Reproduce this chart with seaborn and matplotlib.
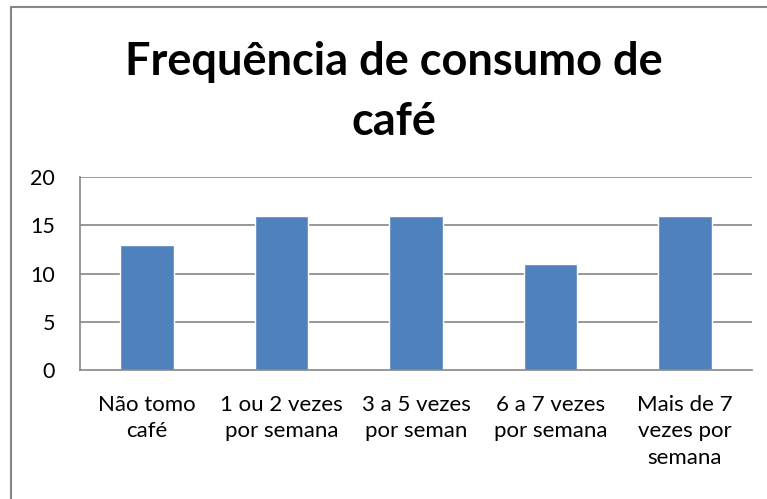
import matplotlib
matplotlib.use("Agg")
import matplotlib.pyplot as plt
import numpy as np
import pandas as pd
import seaborn as sns
from matplotlib.lines import Line2D

# ---------------------------------------------------------------------------
# Data
# ---------------------------------------------------------------------------
categories = [
    "Não tomo\ncafé",
    "1 ou 2 vezes\npor semana",
    "3 a 5 vezes\npor seman",
    "6 a 7 vezes\npor semana",
    "Mais de 7\nvezes por\nsemana",
]
counts = [13, 16, 16, 11, 16]
y_ticks = [0, 5, 10, 15, 20]
title = "Frequência de consumo de\ncafé"

BAR_COLOR = "#4F81BD"
GRID_COLOR = "#868686"

sns.set_theme(style="white")
plt.rcParams["font.family"] = ["Lato", "DejaVu Sans"]

fig = plt.figure(figsize=(7.67, 4.99), dpi=100)
ax = fig.add_axes([80 / 767, 1 - 370 / 499, 672 / 767, 193 / 499])

df = pd.DataFrame({"cat": categories, "n": counts})
sns.barplot(data=df, x="cat", y="n", color=BAR_COLOR, width=0.4,
            saturation=1, ax=ax)

ax.set_ylim(0, 20)
ax.set_xlim(-0.5, len(categories) - 0.5)
ax.set_yticks(y_ticks)
ax.set_xlabel("")
ax.set_ylabel("")

# Excel-like grid / axes
for y in y_ticks[1:]:
    ax.axhline(y, color=GRID_COLOR, lw=1.2, zorder=0)
ax.set_axisbelow(True)
for side in ["top", "right"]:
    ax.spines[side].set_visible(False)
for side in ["left", "bottom"]:
    ax.spines[side].set_color(GRID_COLOR)
    ax.spines[side].set_linewidth(1.2)

ax.tick_params(axis="y", length=0, pad=18, labelsize=15.5, colors="black")
ax.tick_params(axis="x", length=0, pad=18, labelsize=16, colors="black")
for lbl in ax.get_xticklabels():
    lbl.set_linespacing(1.4)
    lbl.set_verticalalignment("top")

fig.text(394 / 767, 1 - 92 / 499, title, ha="center", va="center",
         fontsize=32.5, fontweight="bold", linespacing=1.55, color="black")

# outer chart border (top + left visible in the crop)
fig.add_artist(Line2D([11 / 767, 1], [1 - 7 / 499, 1 - 7 / 499],
                      color=GRID_COLOR, lw=1.5, transform=fig.transFigure))
fig.add_artist(Line2D([11 / 767, 11 / 767], [0, 1 - 7 / 499],
                      color=GRID_COLOR, lw=1.5, transform=fig.transFigure))

fig.savefig("out.png", dpi=100)
